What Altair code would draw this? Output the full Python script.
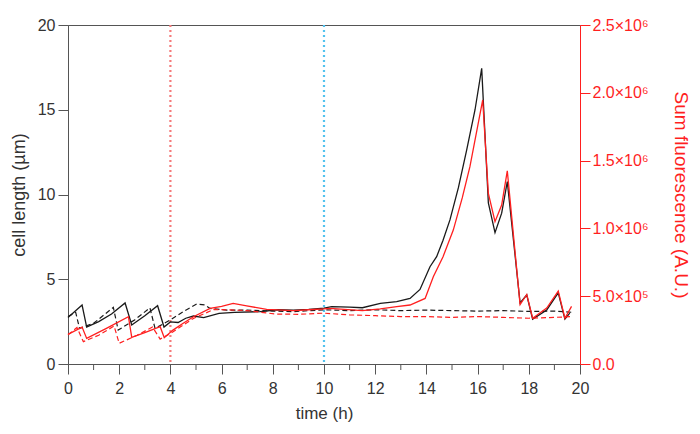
import altair as alt
import pandas as pd

# ---- data ----
t_len1 = [0.0, 0.55, 0.73, 1.2, 1.7, 2.23, 2.49, 3.0, 3.5, 3.75, 4.0, 4.3, 4.6, 4.9, 5.3, 5.9, 6.5, 7.5, 8.2, 8.8, 9.4, 10.0,
          10.3, 11.0, 11.5, 12.2, 12.84, 13.36, 13.75, 14.14, 14.4, 14.65, 14.92, 15.25, 15.57, 15.9, 16.16, 16.42, 16.68,
          16.94, 17.16, 17.66, 17.92, 18.15, 18.7, 19.15, 19.41, 19.6]
len1 = [2.75, 3.48, 2.18, 2.5, 2.95, 3.6, 2.3, 2.85, 3.44, 2.18, 2.48, 2.45, 2.7, 2.83, 2.74, 2.99, 3.05, 3.09, 3.2, 3.18, 3.22, 3.3,
        3.38, 3.35, 3.32, 3.58, 3.68, 3.87, 4.4, 5.74, 6.33, 7.3, 8.5, 10.4, 12.6, 15.0, 17.44, 9.5, 7.75,
        8.9, 10.76, 3.6, 4.07, 2.65, 3.19, 4.2, 2.65, 3.0]

t_len2 = [0.0, 0.3, 0.45, 1.0, 1.77, 1.96, 2.6, 3.2, 3.4, 4.0, 4.5, 5.03, 5.35, 5.55, 6.2, 7.0, 8.0, 8.8, 10.0, 11.0, 12.0,
          13.0, 14.0, 15.0, 16.0, 17.0, 18.0, 19.0, 19.7]
len2 = [2.8, 3.05, 2.1, 2.4, 3.34, 2.0, 2.6, 3.31, 2.1, 2.6, 3.09, 3.54, 3.48, 3.28, 3.18, 3.18, 3.12, 3.09, 3.2, 3.15, 3.2,
        3.15, 3.18, 3.15, 3.12, 3.15, 3.1, 3.12, 3.05]

t_fl1 = [0.0, 0.55, 0.73, 1.5, 2.36, 2.49, 3.0, 3.6, 3.76, 4.1, 4.5, 4.9, 5.55, 6.0, 6.45, 6.98, 7.76, 8.8, 9.4, 10.0, 10.23,
         11.5, 12.2, 12.84, 13.36, 13.95, 14.27, 14.65, 15.05, 15.4, 15.7, 16.2, 16.42, 16.68, 16.94, 17.16, 17.66, 17.92,
         18.15, 18.7, 19.15, 19.41, 19.67]
fl1 = [218750, 272500, 188750, 262500, 348750, 196250, 231250, 275000, 193750, 250000, 300000, 348750, 410000, 425000,
       447500, 428750, 402500, 393750, 400000, 406250, 410000, 393750, 406250, 422500, 435000, 483750, 643750, 791250,
       987500, 1225000, 1455000, 1947500, 1258750, 1050000, 1172500, 1425000, 437500, 512500, 337500, 412500, 537500,
       337500, 425000]

t_fl2 = [0.0, 0.35, 0.6, 1.2, 1.8, 2.0, 2.7, 3.3, 3.6, 4.0, 4.9, 5.7, 7.0, 8.1, 9.0, 10.0, 11.0, 12.0, 13.0, 14.0, 15.0,
         16.0, 17.0, 18.0, 19.0, 19.7]
fl2 = [215000, 268750, 165000, 212500, 280000, 152500, 212500, 272500, 183750, 225000, 336250, 402500, 393750, 368750,
       366250, 375000, 362500, 356250, 350000, 350000, 343750, 350000, 343750, 337500, 343750, 350000]

x_ticks = [0, 2, 4, 6, 8, 10, 12, 14, 16, 18, 20]
x_minor = [1, 3, 5, 7, 9, 11, 13, 15, 17, 19]
y_ticks = [0, 5, 10, 15, 20]
r_ticks = [0, 500000, 1000000, 1500000, 2000000, 2500000]
r_labels = ["0.0", "5.0×10⁵", "1.0×10⁶", "1.5×10⁶", "2.0×10⁶", "2.5×10⁶"]
marker_times = [4, 10]

FONT = "Liberation Sans"
BLACK = "#1a1a1a"
RED = "#ff1f1f"
AXIS = "#555555"

# label expression for right axis
expr = "''"
for v, lab in reversed(list(zip(r_ticks, r_labels))):
    expr = f"datum.value == {v} ? '{lab}' : ({expr})"

xscale = alt.Scale(domain=[0, 20], nice=False)
xaxis = alt.Axis(values=x_ticks, title="time (h)", tickSize=10, labelPadding=6, titlePadding=9,
                 labelFlush=False, labelOverlap=False,
                 domainColor=AXIS, tickColor=AXIS, labelColor="#333", titleColor="#333",
                 labelFontSize=16, titleFontSize=17, labelFont=FONT, titleFont=FONT,
                 titleFontWeight="normal", grid=False)
yscale_l = alt.Scale(domain=[0, 20], nice=False)
yaxis_l = alt.Axis(values=y_ticks, title="cell length (µm)", tickSize=10, labelPadding=3, titlePadding=9,
                   labelFlush=False, labelOverlap=False,
                   domainColor=AXIS, tickColor=AXIS, labelColor="#333", titleColor="#333",
                   labelFontSize=16, titleFontSize=18, labelFont=FONT, titleFont=FONT,
                   titleFontWeight="normal", grid=False)
yscale_r = alt.Scale(domain=[0, 2500000], nice=False)
yaxis_r = alt.Axis(values=r_ticks, labelExpr=expr, orient="right", title="Sum fluorescence (A.U.)",
                   tickSize=10, labelPadding=2, titlePadding=22,
                   labelFlush=False, labelOverlap=False,
                   domainColor=RED, tickColor=RED, labelColor=RED, titleColor=RED,
                   labelFontSize=16, titleFontSize=19, labelFont=FONT, titleFont=FONT,
                   titleFontWeight="normal", grid=False)

df_l1 = pd.DataFrame({"t": t_len1, "v": len1})
df_l2 = pd.DataFrame({"t": t_len2, "v": len2})
df_f1 = pd.DataFrame({"t": t_fl1, "v": fl1})
df_f2 = pd.DataFrame({"t": t_fl2, "v": fl2})

rule4 = alt.Chart(pd.DataFrame({"t": [marker_times[0]]})).mark_rule(
    color="#f57a7a", strokeDash=[2, 3], strokeWidth=2.2).encode(x=alt.X("t:Q", scale=xscale, axis=xaxis))
rule10 = alt.Chart(pd.DataFrame({"t": [marker_times[1]]})).mark_rule(
    color="#52c2ee", strokeDash=[2, 3], strokeWidth=2.2).encode(x=alt.X("t:Q", scale=xscale))
minor = alt.Chart(pd.DataFrame({"t": x_minor})).mark_rule(color=AXIS, strokeWidth=1).encode(
    x=alt.X("t:Q", scale=xscale), y=alt.value(339), y2=alt.value(345))

bl1 = alt.Chart(df_l1).mark_line(color=BLACK, strokeWidth=1.3).encode(
    x=alt.X("t:Q", scale=xscale), y=alt.Y("v:Q", scale=yscale_l, axis=yaxis_l))
bl2 = alt.Chart(df_l2).mark_line(color=BLACK, strokeWidth=1.2, strokeDash=[5, 3]).encode(
    x=alt.X("t:Q", scale=xscale), y=alt.Y("v:Q", scale=yscale_l))

rd1 = alt.Chart(df_f1).mark_line(color=RED, strokeWidth=1.3).encode(
    x=alt.X("t:Q", scale=xscale), y=alt.Y("v:Q", scale=yscale_r, axis=yaxis_r))
rd2 = alt.Chart(df_f2).mark_line(color=RED, strokeWidth=1.2, strokeDash=[5, 3]).encode(
    x=alt.X("t:Q", scale=xscale), y=alt.Y("v:Q", scale=yscale_r))

left = alt.layer(rule4, rule10, minor, bl1, bl2)
right = alt.layer(rd1, rd2)

chart = alt.layer(left, right).resolve_scale(y="independent").properties(
    width=512, height=339,
    padding={"left": 60, "top": 17, "right": 112, "bottom": 62},
    autosize=alt.AutoSizeParams(type="none"),
    background="white",
).configure_view(stroke="#555555", strokeWidth=1)

chart.save("out.html", embed_options={"renderer": "svg", "actions": False})
